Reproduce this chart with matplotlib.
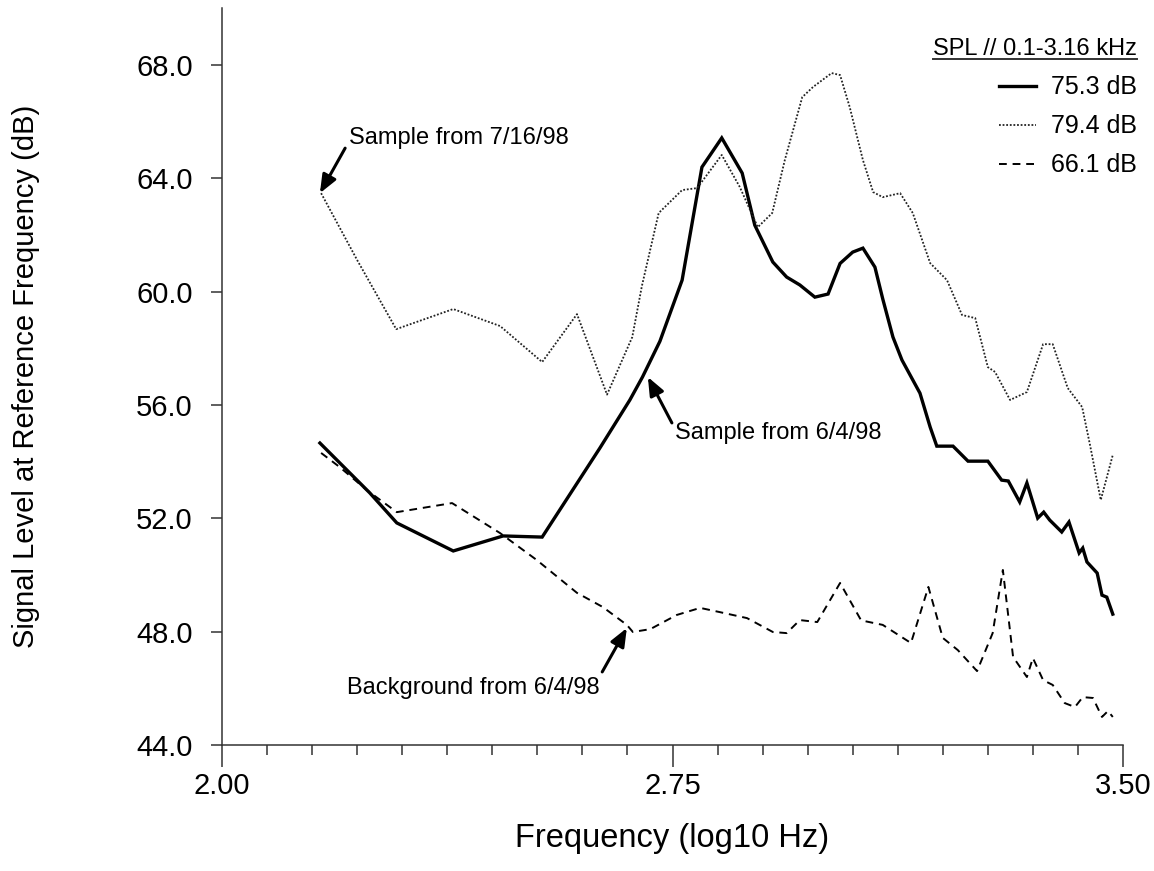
import matplotlib
matplotlib.use('Agg')
import numpy as np
import matplotlib.pyplot as plt
import matplotlib.ticker as mticker
from matplotlib.lines import Line2D

# Frequency (log10 Hz) / level (dB)
freq_a = [2.163, 2.246, 2.291, 2.385, 2.468, 2.533, 2.629, 2.679, 2.700, 2.729,
          2.766, 2.799, 2.832, 2.866, 2.887, 2.917, 2.940, 2.962, 2.987, 3.009,
          3.029, 3.050, 3.067, 3.087, 3.100, 3.117, 3.132, 3.162, 3.179, 3.190,
          3.217, 3.242, 3.275, 3.298, 3.309, 3.328, 3.340, 3.358, 3.368, 3.378,
          3.398, 3.410, 3.427, 3.433, 3.440, 3.457, 3.465, 3.473, 3.483]
level_a = [54.66, 52.90, 51.84, 50.85, 51.38, 51.34, 54.48, 56.18, 56.99, 58.25,
           60.41, 64.40, 65.43, 64.19, 62.35, 61.05, 60.52, 60.24, 59.81, 59.92,
           61.00, 61.40, 61.54, 60.87, 59.75, 58.40, 57.59, 56.42, 55.22, 54.55,
           54.55, 54.02, 54.02, 53.35, 53.32, 52.58, 53.25, 52.01, 52.22, 51.94,
           51.52, 51.87, 50.78, 50.95, 50.46, 50.07, 49.29, 49.22, 48.62]

freq_b = [2.165, 2.225, 2.290, 2.385, 2.463, 2.533, 2.591, 2.641, 2.683, 2.699,
          2.727, 2.766, 2.791, 2.832, 2.862, 2.892, 2.916, 2.937, 2.966, 2.984,
          3.015, 3.029, 3.045, 3.067, 3.084, 3.100, 3.129, 3.150, 3.179, 3.207,
          3.232, 3.254, 3.275, 3.287, 3.312, 3.340, 3.367, 3.383, 3.408, 3.432,
          3.445, 3.463, 3.483]
level_b = [63.48, 61.12, 58.68, 59.39, 58.79, 57.52, 59.21, 56.37, 58.40, 60.20,
           62.78, 63.59, 63.66, 64.83, 63.70, 62.28, 62.78, 64.65, 66.87, 67.23,
           67.72, 67.65, 66.52, 64.65, 63.52, 63.34, 63.48, 62.78, 61.01, 60.41,
           59.18, 59.07, 57.34, 57.17, 56.18, 56.46, 58.15, 58.15, 56.60, 55.93,
           54.60, 52.65, 54.24]

freq_c = [2.165, 2.196, 2.241, 2.291, 2.383, 2.463, 2.524, 2.591, 2.634, 2.674,
          2.684, 2.713, 2.757, 2.796, 2.829, 2.874, 2.917, 2.940, 2.962, 2.991,
          3.029, 3.064, 3.100, 3.147, 3.176, 3.200, 3.225, 3.257, 3.283, 3.300,
          3.317, 3.340, 3.350, 3.367, 3.383, 3.403, 3.420, 3.433, 3.450, 3.465,
          3.475, 3.483]
level_c = [54.31, 53.81, 53.00, 52.22, 52.54, 51.48, 50.53, 49.37, 48.87, 48.24,
           47.99, 48.09, 48.59, 48.84, 48.69, 48.48, 47.99, 47.95, 48.41, 48.34,
           49.72, 48.40, 48.24, 47.60, 49.58, 47.78, 47.35, 46.61, 47.95, 50.18,
           47.11, 46.40, 47.07, 46.29, 46.12, 45.48, 45.34, 45.69, 45.66, 44.99,
           45.20, 44.99]

spl_labels = ['75.3 dB', '79.4 dB', '66.1 dB']
legend_title = 'SPL // 0.1-3.16 kHz'
x_ticks = [2.00, 2.75, 3.50]
y_ticks = [44, 48, 52, 56, 60, 64, 68]


def make_plot():
    plt.rcParams.update({
        'font.family': ['Liberation Sans', 'DejaVu Sans'],
        'axes.linewidth': 1.1,
        'axes.edgecolor': '#333333',
        'xtick.color': '#333333',
        'ytick.color': '#333333',
        'xtick.labelcolor': 'black',
        'ytick.labelcolor': 'black',
    })

    fig = plt.figure(figsize=(11.54, 8.71), dpi=100)
    ax = fig.add_axes([222 / 1154, 1 - 745 / 871, 901 / 1154, 736.5 / 871])

    l_a, = ax.plot(freq_a, level_a, color='black', lw=2.4, solid_joinstyle='miter')
    l_b, = ax.plot(freq_b, level_b, color='#222222', lw=1.3, linestyle=(0, (1, 1)))
    l_c, = ax.plot(freq_c, level_c, color='black', lw=1.4, linestyle=(0, (4, 3)))

    ax.set_xlim(2.0, 3.5)
    ax.set_ylim(44, 70)
    for side in ('top', 'right'):
        ax.spines[side].set_visible(False)

    # minor ticks every 0.075 starting at 2.00
    ax.xaxis.set_major_locator(mticker.FixedLocator(x_ticks))
    ax.xaxis.set_major_formatter(mticker.FormatStrFormatter('%.2f'))
    ax.xaxis.set_minor_locator(mticker.FixedLocator(np.linspace(2.0, 3.5, 21)))
    ax.yaxis.set_major_locator(mticker.FixedLocator(y_ticks))
    ax.yaxis.set_major_formatter(mticker.FormatStrFormatter('%.1f'))
    ax.tick_params(axis='x', which='major', direction='out', length=15.5, width=1.1,
                   labelsize=21, pad=4)
    ax.tick_params(axis='x', which='minor', direction='out', length=7, width=1.1)
    ax.tick_params(axis='y', which='major', direction='out', length=8, width=1.1,
                   labelsize=21, pad=13)

    ax.set_xlabel('Frequency (log10 Hz)', fontsize=23.5, va='center')
    ax.xaxis.set_label_coords(0.5, (745 - 838) / 736.5)
    ax.set_ylabel('Signal Level at Reference Frequency (dB)', fontsize=21, va='center')
    ax.yaxis.set_label_coords((26 - 222) / 901, 0.5)

    # annotations
    arrow = dict(arrowstyle='-|>,head_length=1.1,head_width=0.45', color='black',
                 lw=2.2, shrinkA=0, shrinkB=0, mutation_scale=10)
    ax.annotate('', xy=(2.163, 63.48), xytext=(2.205, 65.07), arrowprops=arrow)
    ax.text(2.211, 65.43, 'Sample from 7/16/98', fontsize=17, va='center', ha='left')
    ax.annotate('', xy=(2.709, 56.99), xytext=(2.749, 55.37), arrowprops=arrow)
    ax.text(2.754, 55.01, 'Sample from 6/4/98', fontsize=17, va='center', ha='left')
    ax.annotate('', xy=(2.674, 48.13), xytext=(2.633, 46.58), arrowprops=arrow)
    ax.text(2.208, 46.01, 'Background from 6/4/98', fontsize=17, va='center', ha='left')

    leg = ax.legend([l_a, l_b, l_c], spl_labels, loc='upper right',
                    bbox_to_anchor=(1137 / 1154, 1 - 38 / 871),
                    bbox_transform=fig.transFigure, frameon=False,
                    title=legend_title, title_fontsize=17, fontsize=18,
                    alignment='right', borderpad=0, borderaxespad=0,
                    handlelength=1.5, handletextpad=0.6, labelspacing=0.6)
    leg._legend_box.sep = 11

    # underline the legend title
    fig.canvas.draw()
    bb = leg.get_title().get_window_extent(fig.canvas.get_renderer())
    inv = fig.transFigure.inverted()
    (x0, y0), (x1, _) = inv.transform([(bb.x0, bb.y0 + 1), (bb.x1, bb.y0 + 1)])
    fig.add_artist(Line2D([x0, x1], [y0, y0], color='#333333', lw=1.4,
                          transform=fig.transFigure))
    return fig


if __name__ == '__main__':
    fig = make_plot()
    fig.savefig('out.png', dpi=100)
